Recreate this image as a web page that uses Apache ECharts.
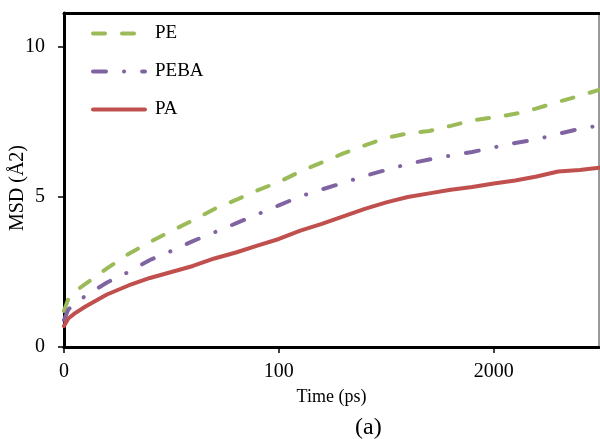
<!DOCTYPE html>
<html>
<head>
<meta charset="utf-8">
<script src="https://cdn.jsdelivr.net/npm/echarts@6/dist/echarts.min.js"></script>
<style>html,body{margin:0;padding:0;background:#fff}#c{width:600px;height:439px}</style>
</head>
<body>
<div id="c"></div>
<script>
var times = [0, 2, 5, 10, 20, 30, 40, 50, 60, 70, 80, 90, 100, 110, 120, 130, 140, 150, 160, 170, 180, 190, 200, 210, 220, 230, 240, 249];
var pe   = [1.2, 1.6, 1.85, 2.1, 2.62, 3.1, 3.5, 3.87, 4.22, 4.6, 4.9, 5.22, 5.5, 5.85, 6.15, 6.45, 6.72, 6.97, 7.12, 7.2, 7.37, 7.55, 7.65, 7.77, 7.95, 8.17, 8.37, 8.57];
var peba = [0.9, 1.25, 1.45, 1.7, 2.15, 2.5, 2.9, 3.2, 3.53, 3.82, 4.12, 4.42, 4.72, 5.02, 5.25, 5.47, 5.7, 5.9, 6.1, 6.25, 6.38, 6.5, 6.65, 6.8, 6.92, 7.1, 7.27, 7.38];
var pa   = [0.7, 0.95, 1.12, 1.35, 1.75, 2.05, 2.3, 2.5, 2.7, 2.95, 3.15, 3.38, 3.6, 3.88, 4.1, 4.35, 4.6, 4.82, 5.0, 5.12, 5.24, 5.33, 5.45, 5.55, 5.68, 5.85, 5.9, 5.97];
var seriesNames = ['PE', 'PEBA', 'PA'];
var xTickValues = [0, 100, 200];
var xTickLabels = ['0', '100', '2000'];
var yTickValues = [0, 5, 10];
var yTickLabels = ['0', '5', '10'];

function pairs(ys) { return times.map(function (t, i) { return [t, ys[i]]; }); }
var FONT = '"Liberation Serif", "DejaVu Serif", serif';

var chart = echarts.init(document.getElementById('c'), null, { renderer: 'canvas' });
chart.setOption({
  animation: false,
  backgroundColor: '#fff',
  grid: { left: 64, right: 1, top: 13, bottom: 92, containLabel: false },
  legend: {
    orient: 'vertical', left: 86, top: 19, itemWidth: 52, itemHeight: 18, itemGap: 19,
    itemStyle: { opacity: 0 },
    lineStyle: { width: 4, cap: 'round' },
    textStyle: { fontFamily: FONT, fontSize: 19, color: '#000', padding: [0, 0, 0, 5] },
    data: seriesNames
  },
  xAxis: [{
    type: 'value', min: 0, max: 249, interval: 100,
    splitLine: { show: false },
    axisLine: { show: true, onZero: false, lineStyle: { color: '#000', width: 3 } },
    axisTick: { show: true, length: 6, customValues: xTickValues, lineStyle: { color: '#000', width: 1.5 } },
    axisLabel: {
      customValues: xTickValues, margin: 15, fontFamily: FONT, fontSize: 20, color: '#000',
      formatter: function (v) { var i = xTickValues.indexOf(v); return i >= 0 ? xTickLabels[i] : ''; }
    },
    name: 'Time (ps)', nameLocation: 'middle', nameGap: 41,
    nameTextStyle: { fontFamily: FONT, fontSize: 18, color: '#000' }
  }, {
    type: 'value', position: 'top', min: 0, max: 249,
    splitLine: { show: false }, axisTick: { show: false }, axisLabel: { show: false },
    axisLine: { show: true, onZero: false, lineStyle: { color: '#000', width: 3 } }
  }],
  yAxis: [{
    type: 'value', min: 0, max: 11.13, interval: 5,
    splitLine: { show: false },
    axisLine: { show: true, onZero: false, lineStyle: { color: '#000', width: 3 } },
    axisTick: { show: true, length: 6, customValues: yTickValues, lineStyle: { color: '#000', width: 1.5 } },
    axisLabel: {
      customValues: yTickValues, margin: 19, fontFamily: FONT, fontSize: 20, color: '#000',
      formatter: function (v) { var i = yTickValues.indexOf(v); return i >= 0 ? yTickLabels[i] : ''; }
    }
  }, {
    type: 'value', position: 'right', min: 0, max: 11.13,
    splitLine: { show: false }, axisTick: { show: false }, axisLabel: { show: false },
    axisLine: { show: true, onZero: false, lineStyle: { color: '#777', width: 1.5 } }
  }],
  graphic: [
    { type: 'text', left: 8, top: 145, rotation: Math.PI / 2,
      style: { text: 'MSD (Å2)', font: '20px ' + FONT, fill: '#000' } },
    { type: 'text', left: 355, top: 416,
      style: { text: '(a)', font: '24px ' + FONT, fill: '#000' } }
  ],
  series: [
    { name: seriesNames[0], type: 'line', data: pairs(pe), showSymbol: false, symbol: 'none',
      color: '#9BBB59',
      lineStyle: { color: '#9BBB59', width: 4, type: [12, 17], cap: 'round' } },
    { name: seriesNames[1], type: 'line', data: pairs(peba), showSymbol: false, symbol: 'none',
      color: '#8064A2',
      lineStyle: { color: '#8064A2', width: 4, type: [13, 18, 0.1, 18], cap: 'round' } },
    { name: seriesNames[2], type: 'line', data: pairs(pa), showSymbol: false, symbol: 'none',
      color: '#C0504D',
      lineStyle: { color: '#C0504D', width: 4, type: 'solid', cap: 'round' } }
  ]
});
</script>
</body>
</html>
